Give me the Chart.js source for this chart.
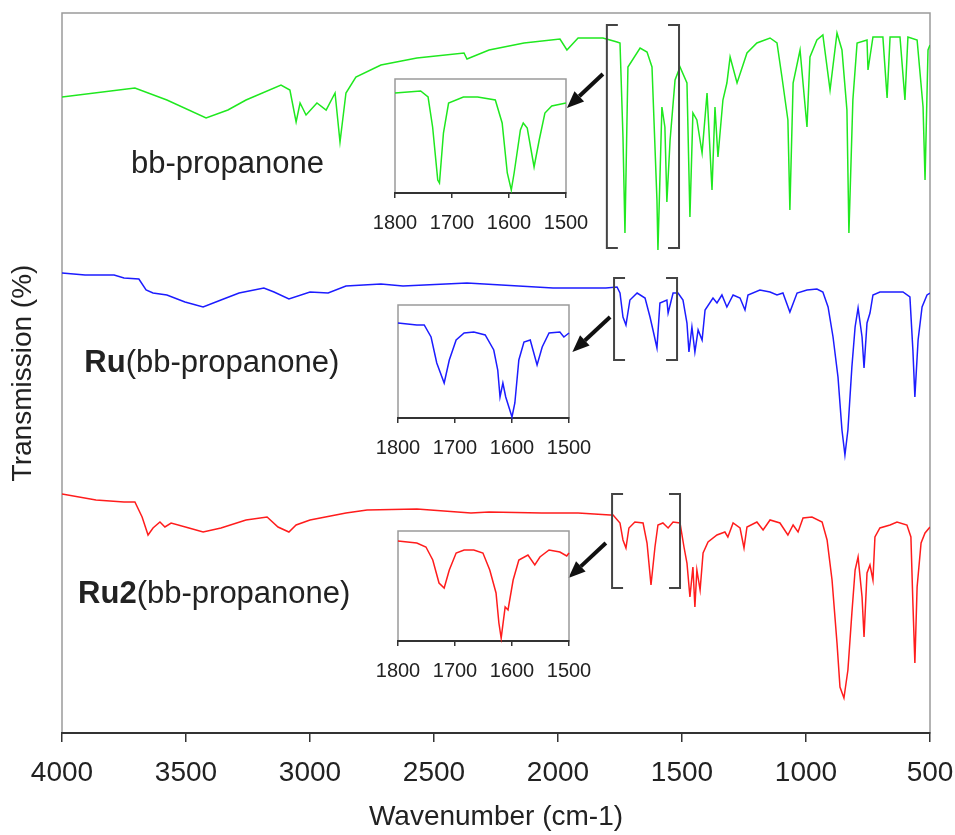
<!DOCTYPE html>
<html>
<head>
<meta charset="utf-8">
<script src="https://cdn.jsdelivr.net/npm/chart.js@4.4.0/dist/chart.umd.min.js"></script>
<style>
    body { margin: 0; background: #fff; }
    #wrap { position: relative; width: 955px; height: 835px; }
    canvas { position: absolute; }
</style>
</head>
<body>
<div id="wrap">
    <canvas id="main" width="955" height="835" style="left:0;top:0"></canvas>
    <canvas id="insetLigand"></canvas>
    <canvas id="insetRu"></canvas>
    <canvas id="insetRu2"></canvas>
</div>
<script>
"use strict"

/* Full spectra: wavenumber (cm-1) and stacked transmission (offset units) */
let ligandWave = [4000, 3706, 3577, 3419, 3331, 3258, 3117, 3081, 3056, 3040, 3016, 2972, 2935, 2899, 2879, 2855, 2815, 2714, 2569, 2379, 2367, 2278, 2137, 1992, 1964, 1919, 1819, 1790, 1762, 1750, 1738, 1730, 1718, 1669, 1641, 1621, 1601, 1597, 1581, 1569, 1561, 1548, 1528, 1508, 1480, 1468, 1456, 1440, 1419, 1399, 1379, 1367, 1355, 1335, 1319, 1306, 1278, 1238, 1198, 1145, 1117, 1097, 1073, 1065, 1052, 1024, 996, 984, 956, 932, 903, 875, 855, 835, 827, 811, 794, 754, 750, 730, 690, 673, 661, 621, 601, 589, 552, 528, 520, 508, 500];
let ligandT = [636, 645, 633, 615, 623, 633, 648, 643, 611, 630, 618, 630, 623, 640, 591, 640, 656, 668, 675, 680, 674, 683, 690, 694, 683, 695, 695, 693, 691, 690, 596, 500, 666, 685, 681, 666, 533, 483, 626, 606, 531, 593, 653, 666, 650, 516, 620, 613, 580, 640, 543, 626, 576, 633, 650, 676, 650, 680, 690, 695, 690, 656, 613, 523, 650, 683, 606, 676, 693, 698, 643, 700, 683, 623, 500, 633, 690, 693, 663, 696, 696, 635, 696, 696, 633, 696, 693, 626, 553, 683, 688];

let ruWave = [4000, 3907, 3790, 3750, 3690, 3661, 3633, 3577, 3504, 3431, 3359, 3286, 3186, 3145, 3085, 3000, 2927, 2855, 2714, 2625, 2367, 2020, 1907, 1807, 1762, 1750, 1738, 1726, 1710, 1681, 1649, 1629, 1617, 1601, 1589, 1561, 1556, 1536, 1516, 1496, 1480, 1472, 1460, 1448, 1435, 1419, 1407, 1375, 1359, 1339, 1319, 1294, 1266, 1246, 1234, 1186, 1145, 1117, 1093, 1065, 1036, 996, 956, 932, 911, 891, 871, 855, 843, 831, 815, 802, 790, 774, 766, 754, 742, 730, 702, 609, 581, 569, 561, 548, 532, 512, 500];
let ruT = [460, 458, 458, 455, 454, 443, 440, 438, 431, 426, 433, 440, 445, 441, 434, 441, 440, 447, 449, 447, 450, 445, 445, 445, 446, 440, 416, 408, 433, 440, 435, 416, 403, 385, 430, 433, 420, 440, 440, 433, 410, 381, 406, 381, 403, 393, 423, 435, 430, 438, 426, 438, 435, 423, 438, 443, 441, 438, 440, 421, 440, 443, 444, 441, 426, 396, 356, 303, 278, 303, 366, 406, 425, 396, 365, 410, 420, 438, 441, 441, 436, 383, 336, 393, 426, 438, 440];

let ru2Wave = [4000, 3863, 3750, 3706, 3677, 3653, 3633, 3605, 3585, 3560, 3488, 3431, 3359, 3258, 3173, 3129, 3085, 3056, 3000, 2855, 2770, 2569, 2351, 2278, 2065, 1919, 1790, 1778, 1750, 1738, 1726, 1714, 1690, 1657, 1641, 1625, 1609, 1597, 1577, 1556, 1536, 1508, 1492, 1480, 1468, 1456, 1448, 1440, 1427, 1415, 1395, 1359, 1327, 1315, 1294, 1266, 1250, 1238, 1198, 1173, 1145, 1105, 1073, 1052, 1032, 1012, 976, 935, 915, 895, 875, 863, 847, 831, 815, 802, 790, 774, 766, 754, 742, 730, 722, 702, 661, 633, 593, 577, 569, 561, 552, 536, 520, 500];
let ru2T = [239, 233, 231, 231, 216, 198, 205, 211, 206, 210, 205, 201, 205, 213, 216, 206, 201, 208, 213, 220, 223, 224, 220, 221, 220, 220, 218, 218, 210, 193, 185, 205, 211, 210, 190, 148, 186, 208, 210, 205, 211, 210, 186, 170, 136, 166, 126, 163, 143, 180, 191, 198, 201, 196, 210, 205, 185, 206, 211, 203, 213, 210, 198, 208, 201, 215, 216, 211, 193, 153, 90, 46, 35, 63, 120, 163, 176, 136, 96, 160, 168, 153, 196, 205, 208, 211, 208, 196, 130, 70, 146, 190, 200, 206];

/* Zoomed 1800-1500 region for the insets */
let ligandZoomWave = [1800, 1755, 1742, 1734, 1725, 1722, 1715, 1706, 1680, 1655, 1624, 1612, 1603, 1596, 1591, 1580, 1575, 1568, 1556, 1547, 1537, 1525, 1500];
let ligandZoomT = [100, 102, 96, 66, 13, 10, 60, 90, 96, 96, 93, 70, 20, 3, 20, 63, 70, 65, 26, 53, 80, 87, 90];

let ruZoomWave = [1800, 1767, 1754, 1742, 1732, 1719, 1710, 1698, 1684, 1667, 1647, 1632, 1625, 1621, 1616, 1611, 1600, 1595, 1588, 1579, 1568, 1556, 1547, 1535, 1516, 1509, 1500];
let ruZoomT = [95, 93, 93, 81, 55, 35, 58, 78, 85, 86, 83, 68, 48, 21, 35, 21, 1, 15, 58, 76, 78, 53, 71, 85, 86, 81, 85];

let ru2ZoomWave = [1800, 1767, 1751, 1739, 1728, 1719, 1710, 1698, 1684, 1667, 1651, 1639, 1628, 1623, 1619, 1612, 1607, 1598, 1588, 1572, 1560, 1551, 1535, 1516, 1504, 1500];
let ru2ZoomT = [100, 98, 94, 81, 58, 53, 71, 88, 91, 91, 88, 71, 48, 18, 3, 34, 31, 61, 81, 86, 76, 84, 91, 89, 85, 88];

let mainTicks = [4000, 3500, 3000, 2500, 2000, 1500, 1000, 500];
let zoomTicks = [1800, 1700, 1600, 1500];


/* Colors */
let green = "#1fe81f";
let blue = "#1c1cff";
let red = "#ff1c1c";
let axisDark = "#333";
let frameGray = "#9a9a9a";
let textDark = "#222";
let font = "'Liberation Sans', Arial, sans-serif";


/* Annotations (in wavenumber / offset units) */
let labels = [
    { bold: "", plain: "bb-propanone", x: 3722, y: 560 },
    { bold: "Ru", plain: "(bb-propanone)", x: 3910, y: 361 },
    { bold: "Ru2", plain: "(bb-propanone)", x: 3935, y: 130 },
];
let brackets = [
    { from: 1803, to: 1512, top: 708, bottom: 485 },
    { from: 1774, to: 1520, top: 455, bottom: 373 },
    { from: 1782, to: 1508, top: 239, bottom: 145 },
];
let arrows = [
    { x1: 1819, y1: 659, x2: 1964, y2: 625 },
    { x1: 1790, y1: 416, x2: 1942, y2: 381 },
    { x1: 1807, y1: 190, x2: 1958, y2: 155 },
];


function toPoints(xs, ys) {
    return xs.map((x, i) => ({ x: x, y: ys[i] }));
}

function spectrum(xs, ys, color) {
    return {
        data: toPoints(xs, ys),
        borderColor: color,
        borderWidth: 1.5,
        showLine: true,
        pointRadius: 0,
        tension: 0,
    };
}

// keep the plot frame exactly where the layout padding puts it
function fixHeight(h) {
    return scale => {
        scale.height = h;
        scale.paddingLeft = 0;
        scale.paddingRight = 0;
    };
}


const framePlugin = {
    id: "frame",
    beforeDraw(chart) {
        const { ctx, chartArea: a } = chart;
        ctx.save();
        ctx.strokeStyle = frameGray;
        ctx.lineWidth = 1.5;
        ctx.strokeRect(a.left, a.top, a.right - a.left, a.bottom - a.top);
        ctx.restore();
    }
};

const notesPlugin = {
    id: "notes",
    afterDraw(chart) {
        const ctx = chart.ctx;
        const xs = chart.scales.x;
        const ys = chart.scales.y;
        ctx.save();

        // sample names
        ctx.fillStyle = textDark;
        ctx.textBaseline = "alphabetic";
        labels.forEach(l => {
            let px = xs.getPixelForValue(l.x);
            let py = ys.getPixelForValue(l.y);
            ctx.font = "bold 31px " + font;
            ctx.fillText(l.bold, px, py);
            px += ctx.measureText(l.bold).width;
            ctx.font = "31px " + font;
            ctx.fillText(l.plain, px, py);
        });

        // brackets around the 1800-1500 region
        ctx.strokeStyle = "#444";
        ctx.lineWidth = 2;
        brackets.forEach(b => {
            let l = xs.getPixelForValue(b.from);
            let r = xs.getPixelForValue(b.to);
            let t = ys.getPixelForValue(b.top);
            let bt = ys.getPixelForValue(b.bottom);
            ctx.beginPath();
            ctx.moveTo(l + 11, t); ctx.lineTo(l, t); ctx.lineTo(l, bt); ctx.lineTo(l + 11, bt);
            ctx.moveTo(r - 11, t); ctx.lineTo(r, t); ctx.lineTo(r, bt); ctx.lineTo(r - 11, bt);
            ctx.stroke();
        });

        // arrows pointing to the insets
        ctx.fillStyle = "#111";
        ctx.strokeStyle = "#111";
        arrows.forEach(a => {
            let x1 = xs.getPixelForValue(a.x1), y1 = ys.getPixelForValue(a.y1);
            let x2 = xs.getPixelForValue(a.x2), y2 = ys.getPixelForValue(a.y2);
            let ang = Math.atan2(y2 - y1, x2 - x1);
            let hl = 17, hw = 7;
            let bx = x2 - hl * Math.cos(ang), by = y2 - hl * Math.sin(ang);
            ctx.lineWidth = 4;
            ctx.beginPath();
            ctx.moveTo(x1, y1);
            ctx.lineTo(bx, by);
            ctx.stroke();
            ctx.beginPath();
            ctx.moveTo(x2, y2);
            ctx.lineTo(bx + hw * Math.sin(ang), by - hw * Math.cos(ang));
            ctx.lineTo(bx - hw * Math.sin(ang), by + hw * Math.cos(ang));
            ctx.closePath();
            ctx.fill();
        });
        ctx.restore();
    }
};


function createMainChart() {
    const canvas = document.getElementById("main").getContext("2d");
    new Chart(canvas, {
        type: "scatter",
        data: {
            datasets: [
                spectrum(ligandWave, ligandT, green),
                spectrum(ruWave, ruT, blue),
                spectrum(ru2Wave, ru2T, red),
            ]
        },
        options: {
            responsive: false,
            animation: false,
            devicePixelRatio: 1,
            layout: { padding: { left: 0, right: 25, top: 13, bottom: 0 } },
            scales: {
                x: {
                    type: "linear",
                    reverse: true,
                    min: 500,
                    max: 4000,
                    afterBuildTicks: scale => {
                        scale.ticks = mainTicks.map(v => ({ value: v }));
                    },
                    afterFit: fixHeight(102),
                    grid: {
                        drawOnChartArea: false,
                        tickLength: 9,
                        color: axisDark,
                        lineWidth: 1.5,
                    },
                    border: { color: axisDark, width: 2 },
                    ticks: {
                        color: textDark,
                        padding: 14,
                        font: { family: font, size: 28 },
                        callback: v => String(v),
                    },
                    title: {
                        display: true,
                        text: "Wavenumber (cm-1)",
                        color: textDark,
                        padding: { top: 0, bottom: 1 },
                        font: { family: font, size: 28 },
                    }
                },
                y: {
                    min: 0,
                    max: 720,
                    afterFit: scale => { scale.width = 62; },
                    grid: { display: false },
                    border: { display: false },
                    ticks: { display: false },
                    title: {
                        display: true,
                        text: "Transmission (%)",
                        color: textDark,
                        padding: { top: 6, bottom: 0 },
                        font: { family: font, size: 28 },
                    }
                }
            },
            plugins: {
                legend: { display: false },
                tooltip: { enabled: false },
            }
        },
        plugins: [framePlugin, notesPlugin]
    });
}


/* one small chart per inset; box = left, top, right, bottom of its plot frame */
function createInset(id, xs, ys, color, box, yMax) {
    const el = document.getElementById(id);
    const padX = 30, padTop = 10, axisH = 45;
    el.width = box.right - box.left + 2 * padX;
    el.height = box.bottom - box.top + padTop + axisH;
    el.style.left = (box.left - padX) + "px";
    el.style.top = (box.top - padTop) + "px";

    new Chart(el.getContext("2d"), {
        type: "scatter",
        data: {
            datasets: [Object.assign(spectrum(xs, ys, color), { clip: false })]
        },
        options: {
            responsive: false,
            animation: false,
            devicePixelRatio: 1,
            layout: { padding: { left: padX, right: padX, top: padTop, bottom: 0 } },
            scales: {
                x: {
                    type: "linear",
                    reverse: true,
                    min: 1500,
                    max: 1800,
                    afterBuildTicks: scale => {
                        scale.ticks = zoomTicks.map(v => ({ value: v }));
                    },
                    afterFit: fixHeight(axisH),
                    grid: {
                        drawOnChartArea: false,
                        tickLength: 5,
                        color: axisDark,
                        lineWidth: 1.5,
                    },
                    border: { color: axisDark, width: 2 },
                    ticks: {
                        color: textDark,
                        padding: 13,
                        font: { family: font, size: 20 },
                        callback: v => String(v),
                    }
                },
                y: { display: false, min: 0, max: yMax }
            },
            plugins: {
                legend: { display: false },
                tooltip: { enabled: false },
            }
        },
        plugins: [framePlugin]
    });
}


createMainChart();
createInset("insetLigand", ligandZoomWave, ligandZoomT, green, { left: 395, top: 79, right: 566, bottom: 193 }, 114);
createInset("insetRu", ruZoomWave, ruZoomT, blue, { left: 398, top: 305, right: 569, bottom: 418 }, 113);
createInset("insetRu2", ru2ZoomWave, ru2ZoomT, red, { left: 398, top: 531, right: 569, bottom: 641 }, 110);
</script>
</body>
</html>
